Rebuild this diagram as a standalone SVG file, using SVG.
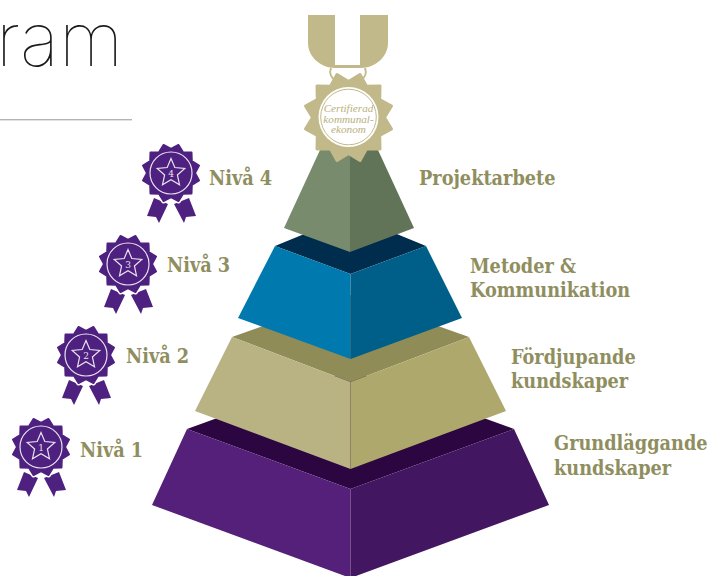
<svg xmlns="http://www.w3.org/2000/svg" width="711" height="576" viewBox="0 0 711 576">
<style>
.lb{font-family:"DejaVu Serif Condensed","DejaVu Serif",serif;font-weight:700;font-size:19.7px;fill:#8f8e5e}
.num{font-family:"DejaVu Serif Condensed",serif;font-size:10px;fill:#e9e4ef;text-anchor:middle}
.md{font-family:"Liberation Serif",serif;font-style:italic;font-size:11.2px;fill:#b9b07e;text-anchor:middle}
.gold{fill:#c2b98a}
</style>
<defs>
<polygon id="bd" points="0,-24 7.5,-28 12,-20.8 20.5,-20.5 20.8,-12 28,-7.5 24,0 28,7.5 20.8,12 20.5,20.5 12,20.8 7.5,28 0,24 -7.5,28 -12,20.8 -20.5,20.5 -20.8,12 -28,7.5 -24,0 -28,-7.5 -20.8,-12 -20.5,-20.5 -12,-20.8 -7.5,-28" stroke-linejoin="round"/>
<g id="ros">
<path fill="#4e2180" d="M-17 25L-3 31L-12 50L-15 44L-24 43Z"/>
<path fill="#4e2180" d="M18 25L3 31L13 50L15 44L25 43Z"/>
<use href="#bd" fill="#fff" stroke="#fff" stroke-width="5"/>
<use href="#bd" fill="#4e2180" stroke="#4e2180" stroke-width="2"/>
<circle r="21" fill="none" stroke="#e9e4ef" stroke-width="1.2"/>
<polygon fill="none" stroke="#e9e4ef" stroke-width="1.2" points="0,-14.5 3.8,-5.5 13.8,-4.5 6.4,2 8.5,11.7 0,6.7 -8.5,11.7 -6.4,2 -13.8,-4.5 -3.8,-5.5"/>
</g>
</defs>
<g id="title">
<text x="-4" y="66" font-family="Inter,'Liberation Sans',sans-serif" font-weight="100" font-size="74" fill="#1a1a1a">ram</text>
<rect x="0" y="119" width="132" height="1.4" fill="#b3b3b3"/>
</g>
<g id="connectors"/>
<g id="tier1">
<polygon fill="#2c0640" points="187,429 350.5,370 514,429 350.5,489"/>
<polygon fill="#54207a" points="187,429 350.5,489 350.5,578 152,505"/>
<polygon fill="#421660" points="514,429 350.5,489 350.5,578 549,505"/>
</g>
<g id="tier2">
<polygon fill="#8f8c58" points="232,337 350.5,295 469,337 350.5,382"/>
<polygon fill="#b9b384" points="232,337 350.5,382 350.5,469 195,411"/>
<polygon fill="#afa86c" points="469,337 350.5,382 350.5,469 506,411"/>
</g>
<g id="tier3">
<polygon fill="#002d4d" points="275,246 350.5,215 426,246 350.5,274"/>
<polygon fill="#0079ae" points="275,246 350.5,274 350.5,359 238,318"/>
<polygon fill="#005f88" points="426,246 350.5,274 350.5,359 462,318"/>
</g>
<g id="tier4">
<polygon fill="#788b6d" points="320,150 350,150 350,252 284,228"/>
<polygon fill="#627458" points="378,150 350,150 350,252 414,228"/>
</g>
<g id="medal">
<path class="gold" d="M308 15H335V65H360V15H388V43C388 57 375 68 361 68H335C321 68 308 57 308 43Z"/>
<path d="M331 68C329 73 331 78 336 81M365 68C367 73 365 78 360 81" fill="none" stroke="#c2b98a" stroke-width="2"/>
<polygon class="gold" stroke="#c2b98a" stroke-width="3" stroke-linejoin="round" points="348.5,81.5 360,74.5 366.5,86.3 380,86 379.7,99.5 391.5,106 384.5,117.5 391.5,129 379.7,135.5 380,149 366.5,148.7 360,160.5 348.5,153.5 337,160.5 330.5,148.7 317,149 317.3,135.5 305.5,129 312.5,117.5 305.5,106 317.3,99.5 317,86 330.5,86.3 337,74.5"/>
<circle cx="348.5" cy="117" r="30" fill="#fff"/>
<circle cx="348.5" cy="117" r="27.8" fill="none" stroke="#c2b98a" stroke-width="1"/>
<text class="md" x="348.5" y="112">Certifierad</text>
<text class="md" x="348.5" y="122.5">kommunal-</text>
<text class="md" x="348.5" y="133">ekonom</text>
</g>
<g id="level4"><use href="#ros" x="171" y="173"/><text class="num" x="171" y="177">4</text><text class="lb" x="209" y="185">Nivå 4</text></g>
<g id="level3"><use href="#ros" x="128" y="264"/><text class="num" x="128" y="268">3</text><text class="lb" x="167" y="272">Nivå 3</text></g>
<g id="level2"><use href="#ros" x="86" y="355"/><text class="num" x="86" y="359">2</text><text class="lb" x="126" y="363">Nivå 2</text></g>
<g id="level1"><use href="#ros" x="41" y="447"/><text class="num" x="41" y="451">1</text><text class="lb" x="80" y="457">Nivå 1</text></g>
<g id="labels">
<text class="lb" x="419" y="185">Projektarbete</text>
<text class="lb" x="470" y="273">Metoder &amp;</text>
<text class="lb" x="470" y="297">Kommunikation</text>
<text class="lb" x="511" y="364">Fördjupande</text>
<text class="lb" x="511" y="388">kundskaper</text>
<text class="lb" x="554" y="450">Grundläggande</text>
<text class="lb" x="554" y="475">kundskaper</text>
</g>
</svg>
